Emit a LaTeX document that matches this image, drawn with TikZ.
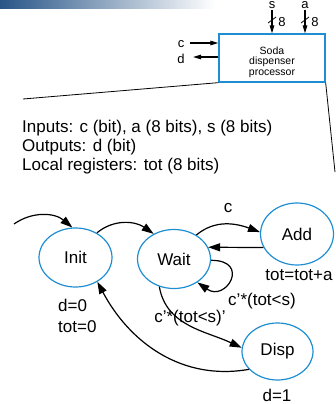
\documentclass[tikz,border=0pt]{standalone}
\usepackage{fontspec}
\setmainfont{Liberation Sans}
\usetikzlibrary{arrows.meta,shapes.geometric}
\definecolor{sblue}{RGB}{30,142,210}
\definecolor{barblue}{RGB}{40,85,135}
\begin{document}
\begin{tikzpicture}[x=1pt,y=-1pt,
  state/.style={ellipse,draw=sblue,line width=1.2pt,minimum width=73pt,minimum height=59pt,inner sep=0pt,font=\fontsize{17}{20}\selectfont},
  big/.style={font=\fontsize{17}{20}\selectfont,inner sep=0pt},
  small/.style={font=\fontsize{13}{15}\selectfont,inner sep=0pt},
  trans/.style={line width=1.2pt,-{Triangle[length=12pt,width=8pt]}},
  port/.style={line width=1.2pt,-{Triangle[length=8pt,width=4.5pt]}},
  thin line/.style={line width=0.8pt}]
\useasboundingbox (0,0) rectangle (335,404);
% title bar
\shade[left color=barblue,right color=white] (0,0) rectangle (215,9);
% processor box
\node[draw=sblue,line width=1.3pt,minimum width=106pt,minimum height=48pt,inner sep=0pt] (box) at (272,58) {};
\node[inner sep=0pt,align=center,font=\fontsize{10.5}{10.3}\selectfont] (boxtext) at (272,62) {Soda\\dispenser\\processor};
% s input
\coordinate (s0) at (272,10);
\draw[port] (s0) -- (s0 |- box.north);
\node[small] (slab) at (272,5.5) {s};
\draw[thin line] (268,23) -- (276,17);
\node[small] (s8) at (282,22.5) {8};
% a input
\coordinate (a0) at (305,10);
\draw[port] (a0) -- (a0 |- box.north);
\node[small] (alab) at (305,5.5) {a};
\draw[thin line] (301,23) -- (309,17);
\node[small] (a8) at (315,22.5) {8};
% c input, d output
\coordinate (c0) at (190,43);
\draw[port] (c0) -- (c0 -| box.west);
\node[small] (clab) at (181,44) {c};
\coordinate (d0) at (193,57);
\draw[port] (d0 -| box.west) -- (d0);
\node[small] (dlab) at (181,59) {d};
% zoom lines
\coordinate (ll) at (23,99);
\draw[thin line] (box.south west) -- (ll);
\coordinate (rl) at (335,172);
\draw[thin line] (box.south east) -- (rl);
% description
\node[big,anchor=base west] (inputs) at (22,132) {Inputs: c (bit), a (8 bits), s (8 bits)};
\node[big,anchor=base west] (outputs) at (22,151) {Outputs: d (bit)};
\node[big,anchor=base west] (locals) at (22,170) {Local registers: tot (8 bits)};
% states
\node[state] (init) at (75.5,257.5) {Init};
\node[state] (wait) at (174,259) {Wait};
\node[state,minimum height=62pt] (add) at (297,234) {Add};
\node[state,minimum width=71pt,minimum height=57pt] (disp) at (277.5,351.5) {Disp};
% state actions
\node[big] (addact) at (299,275) {tot=tot+a};
\node[big,anchor=west] (initact1) at (58,305) {d=0};
\node[big,anchor=west] (initact2) at (58,327) {tot=0};
\node[big] (dispact) at (277,395) {d=1};
% transitions
\coordinate (start) at (14,224);
\draw[trans] (start) to[out=35,in=140] (init.96);
\draw[trans] (init.49) to[out=40,in=145] (wait.129);
\draw[trans] (wait.47) to[out=40,in=160] (add.177);
\node[big] (tc) at (228,208) {c};
\draw[trans] (add.202) -- (wait.19);
\draw[trans] (wait.-2) .. controls +(0:40pt) and +(-35:35pt) .. (wait.-45);
\node[big] (tloop) at (262,301) {c'*(tot<s)};
\draw[trans] (wait.-118) to[out=-80,in=155] (disp.174);
\node[big] (tdisp) at (190,318) {c'*(tot<s)'};
\draw[trans] (disp.212) to[out=190,in=-62] (init.-48);
\end{tikzpicture}
\end{document}
